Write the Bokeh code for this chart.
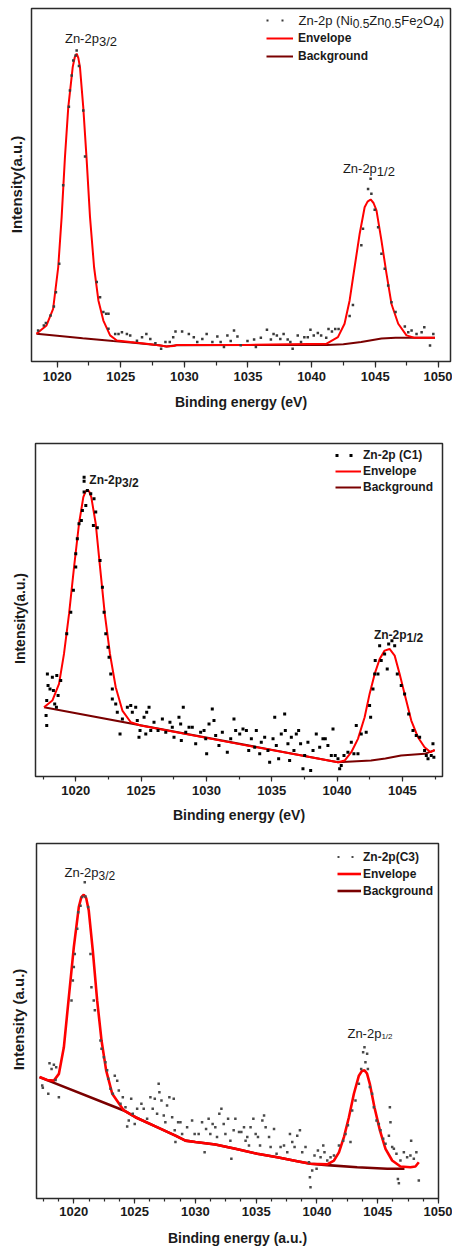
import math
import numpy as np
from bokeh.plotting import figure
from bokeh.models import SingleIntervalTicker, Legend, LegendItem, Label
from bokeh.layouts import column, row
from bokeh.embed import file_html
from bokeh.resources import INLINE

# ---------------- data (binding energy in eV, intensity in a.u.) ----------------
p1_data_x = [1018.50, 1018.95, 1019.11, 1019.48, 1019.74, 1019.90, 1020.16, 1020.47, 1020.92, 1021.00,
             1021.14, 1021.26, 1021.45, 1021.53, 1021.71, 1022.05, 1022.19, 1023.11, 1023.37, 1023.63,
             1023.85, 1024.03, 1024.03, 1024.56, 1024.82, 1025.09, 1025.48, 1025.74, 1026.27, 1026.67,
             1027.01, 1027.32, 1027.72, 1028.17, 1028.51, 1028.85, 1029.12, 1029.30, 1029.82, 1030.35,
             1030.74, 1031.01, 1031.41, 1031.75, 1032.20, 1032.59, 1032.85, 1033.11, 1033.38, 1033.64,
             1033.90, 1034.17, 1034.43, 1034.96, 1035.48, 1035.62, 1036.01, 1036.49, 1036.80, 1037.01,
             1037.27, 1037.54, 1037.80, 1038.12, 1038.33, 1038.51, 1038.91, 1039.17, 1039.43, 1039.70,
             1039.91, 1040.17, 1040.49, 1040.75, 1041.15, 1041.33, 1041.60, 1041.86, 1042.12, 1042.99,
             1043.25, 1043.91, 1044.04, 1044.44, 1044.70, 1044.64, 1044.96, 1045.23, 1045.49, 1045.75,
             1046.02, 1046.28, 1046.60, 1047.33, 1047.60, 1047.86, 1048.25, 1048.65, 1048.86, 1049.31,
             1049.57]
p1_data_y = [8.8, 10.2, 10.9, 13.0, 15.6, 19.6, 27.7, 49.9, 72.2, 76.8,
             81.0, 85.3, 86.7, 88.1, 83.7, 71.1, 58.1, 22.5, 18.2, 14.0,
             13.5, 13.5, 9.3, 7.8, 7.8, 8.3, 7.8, 7.4, 5.9, 6.9,
             7.8, 6.4, 5.2, 3.6, 5.5, 5.5, 6.9, 8.5, 8.5, 7.8,
             6.9, 5.5, 6.4, 7.8, 5.5, 7.1, 5.5, 4.1, 7.4, 5.8,
             8.8, 7.1, 4.6, 5.8, 6.2, 4.1, 6.7, 9.0, 6.2, 7.8,
             7.4, 6.4, 7.8, 6.2, 5.5, 3.6, 7.4, 5.5, 6.9, 6.9,
             9.0, 7.4, 8.1, 7.4, 6.7, 9.2, 8.5, 9.2, 9.2, 12.9,
             16.0, 32.9, 37.6, 48.9, 47.5, 51.8, 43.0, 38.0, 30.5, 26.3,
             21.5, 16.8, 14.0, 9.9, 8.3, 8.8, 7.8, 8.3, 9.7, 4.5,
             7.8]
p1_env_x = [1018.37, 1019.16, 1019.68, 1020.08, 1020.35, 1020.61, 1020.87, 1021.22, 1021.38, 1021.53,
            1021.66, 1021.79, 1022.05, 1022.32, 1022.58, 1022.90, 1023.24, 1023.63, 1024.16, 1024.69,
            1025.74, 1027.00, 1028.11, 1028.60, 1029.16, 1029.43, 1035.00, 1041.15, 1042.07, 1042.59,
            1042.99, 1043.38, 1043.78, 1044.17, 1044.40, 1044.64, 1044.87, 1045.10, 1045.49, 1045.89,
            1046.28, 1046.81, 1047.46, 1048.12, 1049.70]
p1_env_y = [7.85, 10.2, 14.9, 26.7, 40.9, 57.9, 72.0, 83.4, 86.2, 87.2,
            86.0, 83.4, 72.0, 56.9, 40.9, 26.7, 17.3, 11.6, 7.4, 5.95,
            5.5, 5.0, 4.5, 4.25, 4.4, 4.7, 4.7, 5.0, 6.9, 10.7,
            17.3, 26.7, 36.2, 43.7, 45.3, 45.9, 44.9, 42.8, 34.3, 24.8,
            16.3, 10.7, 7.4, 6.7, 6.7]
p1_bg_x = [1018.37, 1020.0, 1022.0, 1024.4, 1026.0, 1028.0, 1028.6, 1029.4, 1035.0, 1041.2,
           1042.5, 1043.9, 1045.5, 1046.6, 1049.7]
p1_bg_y = [7.85, 7.3, 6.6, 5.8, 5.3, 4.6, 4.25, 4.6, 4.7, 4.7,
           4.9, 5.5, 6.5, 6.7, 6.7]

p2_data_x = [1017.83, 1017.88, 1017.78, 1017.73, 1017.78, 1018.03, 1018.21, 1018.29, 1018.39, 1018.55,
             1018.65, 1018.52, 1018.85, 1019.31, 1019.62, 1019.82, 1020.00, 1020.00, 1020.12, 1020.25,
             1020.43, 1020.51, 1020.64, 1020.64, 1020.64, 1020.77, 1020.89, 1021.15, 1021.40, 1021.35,
             1021.53, 1021.65, 1021.86, 1022.04, 1022.17, 1022.30, 1022.47, 1022.55, 1022.68, 1022.80,
             1022.80, 1023.06, 1023.18, 1023.39, 1023.57, 1023.95, 1024.21, 1024.33, 1024.59, 1024.71,
             1024.92, 1024.84, 1025.23, 1025.43, 1025.61, 1025.36, 1025.74, 1025.99, 1026.30, 1026.63,
             1026.89, 1027.21, 1027.39, 1027.52, 1027.90, 1028.03, 1028.23, 1028.08, 1028.42, 1028.67,
             1028.92, 1029.18, 1029.56, 1029.82, 1030.02, 1029.95, 1030.20, 1030.45, 1030.58, 1030.71,
             1030.96, 1031.22, 1031.60, 1031.86, 1032.11, 1032.24, 1032.55, 1032.80, 1033.06, 1033.24,
             1033.44, 1033.70, 1033.82, 1034.08, 1034.20, 1034.46, 1034.71, 1034.84, 1035.10, 1035.23,
             1035.35, 1035.53, 1035.73, 1035.99, 1036.04, 1036.24, 1036.37, 1036.50, 1036.70, 1036.88,
             1037.06, 1037.21, 1037.39, 1037.52, 1037.77, 1037.98, 1038.16, 1038.41, 1038.67, 1038.92,
             1039.10, 1039.30, 1039.56, 1039.69, 1039.86, 1040.07, 1040.20, 1040.32, 1040.53, 1040.83,
             1041.09, 1041.29, 1041.47, 1041.60, 1041.85, 1042.23, 1042.49, 1042.57, 1042.75, 1042.88,
             1042.92, 1043.13, 1043.26, 1043.38, 1043.64, 1043.84, 1043.95, 1044.20, 1044.41, 1044.61,
             1044.91, 1045.17, 1045.48, 1045.81, 1046.06, 1046.32, 1046.70, 1046.83, 1046.96, 1047.21,
             1047.34, 1047.41]
p2_data_y = [30.8, 27.3, 22.8, 18.3, 15.3, 26.3, 29.8, 25.8, 21.8, 30.3,
             24.3, 20.8, 28.8, 42.9, 49.3, 55.9, 62.9, 66.9, 71.4, 75.9,
             76.9, 79.9, 85.4, 89.9, 88.7, 81.4, 85.9, 84.9, 83.4, 75.4,
             79.4, 74.7, 64.9, 56.8, 49.3, 42.9, 38.8, 35.8, 30.8, 26.3,
             23.3, 21.8, 19.3, 12.8, 17.3, 20.8, 21.3, 19.3, 20.8, 16.8,
             13.8, 11.8, 17.8, 19.3, 20.8, 12.8, 13.8, 16.3, 13.8, 17.3,
             13.3, 16.3, 14.8, 11.8, 17.8, 15.8, 20.8, 10.8, 13.3, 14.8,
             14.8, 9.8, 13.3, 13.8, 6.8, 11.3, 15.8, 20.3, 16.8, 12.3,
             9.3, 13.3, 7.3, 11.3, 17.3, 13.8, 12.8, 14.3, 13.8, 7.8,
             11.3, 8.8, 13.8, 6.8, 10.3, 11.8, 7.8, 4.3, 11.3, 17.8,
             9.3, 5.3, 12.8, 18.8, 13.8, 9.8, 4.8, 11.8, 7.8, 12.8,
             13.8, 9.8, 2.3, 6.3, 10.3, 1.8, 7.8, 12.8, 8.8, 11.3,
             11.3, 9.3, 6.3, 14.3, 6.3, 5.3, 2.3, 3.3, 6.3, 7.3,
             10.3, 6.8, 15.3, 6.8, 12.8, 13.3, 21.3, 17.8, 26.3, 30.8,
             34.8, 30.8, 39.3, 34.8, 36.8, 32.3, 39.8, 40.8, 39.3, 30.8,
             27.3, 24.8, 18.8, 13.8, 12.3, 11.8, 7.8, 6.3, 5.3, 6.3,
             9.8, 5.8]
p2_env_x = [1017.57, 1018.21, 1018.72, 1019.10, 1019.49, 1019.87, 1020.25, 1020.58, 1020.74, 1020.89,
            1021.04, 1021.19, 1021.53, 1021.86, 1022.22, 1022.62, 1023.06, 1023.57, 1024.21, 1024.97,
            1032.42, 1040.07, 1040.58, 1041.09, 1041.60, 1042.11, 1042.49, 1042.88, 1043.26, 1043.64,
            1044.02, 1044.41, 1044.79, 1045.17, 1045.68, 1046.19, 1046.70, 1047.16, 1047.47]
p2_env_y = [20.8, 22.8, 27.8, 36.8, 48.9, 62.9, 75.9, 83.9, 85.5, 86.1,
            85.5, 83.9, 75.9, 62.9, 48.9, 36.8, 26.8, 19.8, 16.3, 15.3,
            9.8, 4.3, 4.8, 7.3, 11.3, 17.8, 24.8, 30.8, 35.3, 37.8,
            38.3, 36.3, 30.8, 24.8, 16.8, 11.8, 8.8, 7.3, 8.0]
p2_bg_x = [1017.57, 1040.07, 1042.6, 1043.7, 1044.9, 1046.7, 1047.47]
p2_bg_y = [20.8, 4.3, 4.8, 5.4, 6.3, 6.8, 7.9]

p3_data_x = [1017.40, 1017.45, 1017.90, 1018.00, 1018.17, 1018.36, 1018.55, 1018.50, 1018.77, 1019.81,
             1019.92, 1020.00, 1020.08, 1020.28, 1020.36, 1020.55, 1020.69, 1020.90, 1020.96, 1021.18,
             1021.37, 1021.45, 1021.64, 1021.73, 1022.19, 1022.28, 1022.47, 1022.60, 1022.74, 1022.83,
             1023.02, 1023.21, 1023.37, 1023.57, 1023.70, 1023.84, 1024.03, 1024.25, 1024.39, 1024.52,
             1024.72, 1024.85, 1025.01, 1025.21, 1025.56, 1025.75, 1026.03, 1026.30, 1026.49, 1026.66,
             1026.85, 1026.98, 1027.04, 1027.21, 1027.40, 1027.53, 1027.67, 1027.86, 1028.09, 1028.22,
             1028.30, 1028.36, 1028.58, 1028.77, 1028.91, 1029.32, 1029.73, 1029.94, 1030.27, 1030.55,
             1030.76, 1030.88, 1031.09, 1031.23, 1031.42, 1031.64, 1031.78, 1031.97, 1032.14, 1032.33,
             1032.47, 1032.69, 1032.88, 1032.96, 1033.15, 1033.29, 1033.59, 1033.78, 1034.00, 1034.13,
             1034.27, 1034.41, 1034.54, 1034.77, 1034.96, 1035.15, 1035.32, 1035.51, 1035.65, 1035.78,
             1036.06, 1036.19, 1036.47, 1036.68, 1037.01, 1037.29, 1037.56, 1037.78, 1037.97, 1038.16,
             1038.38, 1038.60, 1038.79, 1039.06, 1039.34, 1039.42, 1039.47, 1039.61, 1039.80, 1039.97,
             1040.08, 1040.30, 1040.52, 1040.62, 1040.85, 1041.12, 1041.40, 1041.81, 1042.16, 1042.35,
             1042.55, 1042.76, 1042.90, 1043.17, 1043.45, 1043.64, 1043.80, 1043.91, 1043.99, 1044.13,
             1044.19, 1044.35, 1044.54, 1044.68, 1044.90, 1045.09, 1045.23, 1045.45, 1045.64, 1045.92,
             1046.00, 1046.05, 1046.19, 1046.33, 1046.54, 1046.66, 1046.74, 1046.87, 1047.15, 1047.42,
             1047.69, 1047.75, 1047.97, 1048.18, 1048.38]
p3_data_y = [31.8, 31.2, 29.5, 38.1, 36.5, 37.7, 37.0, 33.4, 28.5, 55.8,
             61.4, 65.2, 68.9, 76.0, 80.6, 82.5, 84.9, 89.1, 85.1, 82.1,
             68.9, 59.5, 55.8, 53.0, 44.5, 42.2, 39.8, 38.4, 36.1, 33.7,
             30.9, 29.5, 34.6, 33.2, 30.4, 26.7, 28.5, 25.7, 20.3, 22.0,
             28.1, 23.9, 21.0, 25.3, 26.7, 25.3, 22.5, 28.5, 25.3, 28.1,
             23.9, 32.3, 29.9, 27.6, 23.4, 21.5, 26.2, 28.5, 22.9, 28.1,
             19.2, 15.9, 21.5, 21.5, 18.2, 20.1, 22.0, 18.2, 18.2, 21.5,
             13.0, 19.6, 22.5, 18.2, 21.0, 20.1, 17.3, 23.9, 25.3, 21.0,
             18.2, 22.5, 16.3, 11.2, 19.2, 22.5, 18.7, 18.7, 20.1, 16.3,
             17.3, 14.9, 20.1, 22.5, 18.2, 17.3, 14.9, 22.0, 23.4, 20.1,
             17.3, 14.5, 19.6, 12.6, 14.5, 14.9, 13.0, 18.2, 15.9, 14.5,
             17.7, 19.2, 13.0, 14.5, 10.2, 6.0, 3.2, 7.9, 12.1, 8.4,
             13.5, 11.6, 14.9, 13.0, 10.7, 11.6, 12.1, 14.9, 16.3, 18.2,
             20.6, 15.9, 24.8, 27.6, 32.3, 36.5, 41.2, 42.6, 38.4, 40.8,
             36.5, 31.4, 29.5, 25.7, 22.0, 21.0, 19.2, 16.8, 15.4, 17.7,
             25.7, 21.5, 14.5, 14.0, 12.6, 5.5, 4.3, 10.7, 13.0, 11.6,
             12.1, 16.3, 11.2, 13.0, 5.1]
p3_env_x = [1017.18, 1017.81, 1018.36, 1018.77, 1019.18, 1019.59, 1020.00, 1020.41, 1020.62, 1020.82,
            1021.02, 1021.23, 1021.56, 1021.92, 1022.28, 1022.66, 1023.16, 1024.11, 1025.07, 1026.71,
            1028.36, 1029.18, 1030.00, 1031.64, 1033.29, 1035.09, 1036.74, 1038.38, 1039.47, 1040.85,
            1041.40, 1041.81, 1042.22, 1042.63, 1043.04, 1043.45, 1043.70, 1043.91, 1044.12, 1044.35,
            1044.73, 1045.18, 1045.64, 1046.19, 1046.87, 1047.69, 1048.10, 1048.38]
p3_env_y = [34.2, 33.4, 33.2, 35.1, 42.6, 56.7, 70.8, 82.1, 84.9, 85.6,
            84.6, 81.1, 69.9, 55.8, 44.5, 36.1, 29.5, 24.8, 22.9, 20.3,
            17.7, 16.3, 15.9, 15.2, 14.0, 12.6, 11.6, 10.5, 9.8, 9.6,
            10.7, 13.0, 17.3, 22.9, 29.5, 34.6, 35.9, 36.1, 35.2, 32.3,
            25.7, 19.2, 14.0, 10.7, 9.0, 8.8, 9.0, 10.2]
p3_bg_x = [1017.18, 1024.11, 1025.07, 1026.71, 1028.36, 1029.18, 1030.00, 1031.64, 1033.29, 1035.09,
           1036.74, 1038.38, 1039.47, 1040.85, 1043.31, 1045.78, 1047.20]
p3_bg_y = [34.2, 24.8, 22.9, 20.3, 17.7, 16.3, 15.9, 15.2, 14.0, 12.6,
           11.6, 10.5, 9.8, 9.4, 8.8, 8.4, 8.4]

p1_peaks = [(1020.61, 91.6, "Zn-2p", "3/2"), (1042.46, 54.6, "Zn-2p", "1/2")]
p2_peaks = [(1021.04, 88.9, "Zn-2p", "3/2"), (1042.82, 42.6, "Zn-2p", "1/2")]
p3_peaks = [(1019.24, 91.7, "Zn-2p", "3/2"), (1042.51, 46.4, "Zn-2p", "1/2")]

FONT = "Liberation Sans"
W_REG = {"Z": 611, "n": 556, "-": 333, "2": 556, "p": 556, " ": 278, "(": 333, ")": 333, "N": 722,
         "i": 222, "0": 556, ".": 278, "5": 556, "F": 611, "e": 556, "O": 778, "4": 556, "C": 722,
         "1": 556, "3": 556, "/": 278}
W_BOLD = dict(W_REG, n=611, p=611, i=278, I=278, t=333, s=556, y=556, a=556, u=611)
PAGE_W = 452


def tw(s, size, bold=False):
    t = W_BOLD if bold else W_REG
    return sum(t.get(c, 556) for c in s) * size / 1000.0


def make_ylabel(cfg):
    # narrow strip left of the plot that carries the vertical axis title;
    # its frame is aligned with the plot frame by the row layout
    f = figure(width=cfg["bl"] - 1, height=cfg["height"], x_range=(0, 1), y_range=(0, 1),
               x_axis_location=None, y_axis_location=None, toolbar_location=None,
               output_backend="svg", min_border=0)
    f.outline_line_color = None
    f.xgrid.visible = False
    f.ygrid.visible = False
    f.border_fill_color = "white"
    f.background_fill_color = "white"
    yl = cfg["ylab"]
    f.add_layout(Label(x=yl["x"], y=yl["c"], x_units="screen", y_units="screen",
                       text=cfg["ylabel"], angle=math.pi / 2, text_align="center",
                       text_baseline="middle", text_font=FONT, text_font_size=f"{yl['fs']}px",
                       text_font_style="bold", text_color="#1a1a1a"))
    return f


def make_panel(cfg):
    p = figure(width=PAGE_W - (cfg["bl"] - 1), height=cfg["height"], x_range=cfg["xr"],
               y_range=(0, 100), y_axis_location=None,
               output_backend="svg", toolbar_location=None,
               min_border_left=1, min_border_right=cfg["br"],
               min_border_top=cfg["bt"], min_border_bottom=cfg["bb"])
    p.xgrid.visible = False
    p.ygrid.visible = False
    p.background_fill_color = "white"
    p.border_fill_color = "white"
    p.outline_line_color = "#2a2a2a"
    p.outline_line_width = 1.5
    p.outline_line_alpha = 1.0

    bg = p.line(cfg["bgx"], cfg["bgy"], line_color="#7a0000", line_width=cfg["lw"])
    env = p.line(cfg["envx"], cfg["envy"], line_color="#ff0000", line_width=cfg["lw"])
    p.scatter(cfg["dx"], cfg["dy"], marker="square", size=cfg["ms"], line_color=None,
              fill_color=cfg["mc"])
    # legend-only renderer: draws nothing in the plot, supplies the "- -" legend sample
    nan2 = np.array([np.nan, np.nan])
    dots = p.line(x=nan2, y=nan2, line_color=cfg["mc"], line_width=cfg["dw"], line_dash=cfg["dash"])

    xa = p.xaxis[0]
    xa.ticker = SingleIntervalTicker(interval=5, num_minor_ticks=cfg["minor"])
    xa.axis_line_color = None
    xa.major_tick_out = cfg["mto"]
    xa.major_tick_in = 0
    xa.minor_tick_out = cfg["mto"] - 2
    xa.minor_tick_in = 0
    xa.major_tick_line_color = "#2a2a2a"
    xa.minor_tick_line_color = "#2a2a2a"
    xa.major_tick_line_width = 1.2
    xa.minor_tick_line_width = 1.2
    xa.major_label_standoff = cfg["tls"]
    xa.major_label_text_font = FONT
    xa.major_label_text_font_size = "13px"
    xa.major_label_text_font_style = "bold"
    xa.major_label_text_color = "#1a1a1a"
    xa.axis_label = cfg["xlabel"]
    xa.axis_label_text_font = FONT
    xa.axis_label_text_font_size = "14px"
    xa.axis_label_text_font_style = "bold"
    xa.axis_label_text_color = "#1a1a1a"
    xa.axis_label_standoff = cfg["xls"]

    lg = cfg["legend"]
    legend = Legend(items=[LegendItem(label=cfg["lab0"], renderers=[dots]),
                           LegendItem(label="Envelope", renderers=[env]),
                           LegendItem(label="Background", renderers=[bg])],
                    location=lg["loc"], orientation="vertical", padding=0, margin=0, spacing=0,
                    glyph_width=lg["gw"], glyph_height=lg["h"], label_height=lg["h"],
                    label_standoff=lg["ls"], label_text_font=FONT,
                    label_text_font_size=lg["fs"], label_text_font_style=lg["style"],
                    label_text_color="#1a1a1a",
                    background_fill_alpha=0, border_line_alpha=0)
    p.add_layout(legend)

    pk = cfg["pk"]
    for (x, y, main, sub), subsize in zip(cfg["peaks"], pk["sub"]):
        style = "bold" if pk["bold"] else "normal"
        p.add_layout(Label(x=x, y=y, text=main, text_font=FONT, text_font_size=f"{pk['size']}px",
                           text_font_style=style, text_baseline="middle", text_align="left",
                           text_color="#1a1a1a"))
        p.add_layout(Label(x=x, y=y, x_offset=tw(main, pk["size"], pk["bold"]), y_offset=-pk["drop"],
                           text=sub, text_font=FONT, text_font_size=f"{subsize}px",
                           text_font_style=style, text_baseline="middle", text_align="left",
                           text_color="#1a1a1a"))
    return p


cfg1 = dict(height=420, bl=31, br=2, bt=8, bb=59, xr=(1017.98, 1050.92),
            dx=p1_data_x, dy=p1_data_y, envx=p1_env_x, envy=p1_env_y, bgx=p1_bg_x, bgy=p1_bg_y,
            lw=2, ms=2.5, mc="#3a3a3a", dw=2, dash="2 13", minor=2, mto=6, tls=4, xls=10,
            xlabel="Binding energy (eV)", ylabel="Intensity(a.u.)",
            ylab=dict(x=16, c=177, fs=15),
            lab0=" ", legend=dict(loc=(235, 296), gw=27, h=18, ls=5, fs="12px", style="bold"),
            peaks=p1_peaks, pk=dict(size=13, bold=False, drop=3, sub=[13, 13]))
cfg2 = dict(height=420, bl=35, br=10, bt=23, bb=64, xr=(1016.92, 1048.07),
            dx=p2_data_x, dy=p2_data_y, envx=p2_env_x, envy=p2_env_y, bgx=p2_bg_x, bgy=p2_bg_y,
            lw=2, ms=3, mc="#000000", dw=3, dash="3 11", minor=2, mto=5, tls=4, xls=9,
            xlabel="Binding energy (eV)", ylabel="Intensity(a.u.)",
            ylab=dict(x=19, c=158, fs=14),
            lab0="Zn-2p (C1)", legend=dict(loc=(300, 281), gw=26, h=16, ls=2, fs="12px", style="bold"),
            peaks=p2_peaks, pk=dict(size=12, bold=True, drop=3, sub=[12, 12]))
cfg3 = dict(height=413, bl=36, br=14, bt=3, bb=55, xr=(1016.93, 1050.0),
            dx=p3_data_x, dy=p3_data_y, envx=p3_env_x, envy=p3_env_y, bgx=p3_bg_x, bgy=p3_bg_y,
            lw=2.6, ms=2.5, mc="#4a4a4a", dw=2, dash="2 12", minor=4, mto=5, tls=3, xls=11,
            xlabel="Binding energy (a.u.)", ylabel="Intensity (a.u.)",
            ylab=dict(x=18, c=179, fs=15),
            lab0="Zn-2p(C3)", legend=dict(loc=(301, 299), gw=24, h=17, ls=2, fs="12px", style="bold"),
            peaks=p3_peaks, pk=dict(size=13, bold=False, drop=3, sub=[12, 8]))

p1 = make_panel(cfg1)
p2 = make_panel(cfg2)
p3 = make_panel(cfg3)

# composite legend text with subscripts for panel 1: Zn-2p (Ni0.5Zn0.5Fe2O4)
pieces = [("Zn-2p (Ni", 13, 0), ("0.5", 12, 3), ("Zn", 13, 0), ("0.5", 12, 3), ("Fe", 13, 0),
          ("2", 12, 3), ("O", 13, 0), ("4", 12, 3), (")", 13, 0)]
lx = 235 + 27 + 5
ly = 353 - 12
for txt, fs, dy in pieces:
    p1.add_layout(Label(x=lx, y=ly - dy, x_units="screen", y_units="screen", text=txt,
                        text_font=FONT, text_font_size=f"{fs}px", text_baseline="middle",
                        text_align="left", text_color="#1a1a1a"))
    lx += tw(txt, fs)

layout = column(row(make_ylabel(cfg1), p1),
                row(make_ylabel(cfg2), p2),
                row(make_ylabel(cfg3), p3))
open("out.html", "w").write(file_html(layout, INLINE, title="Zn-2p XPS"))
